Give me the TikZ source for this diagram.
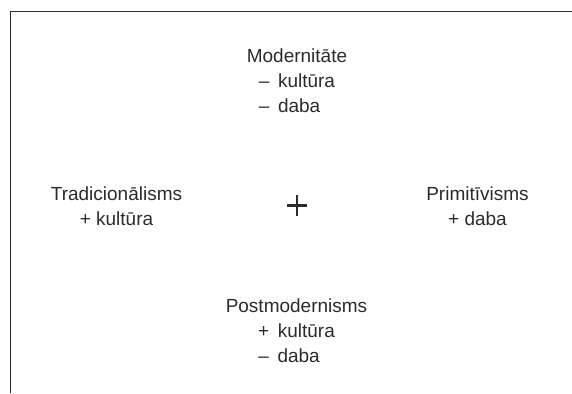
\documentclass[tikz,border=0pt]{standalone}
\usepackage{fontspec}
\setmainfont{Liberation Sans}
\definecolor{ink}{HTML}{2B2B2B}
\def\gap{\hspace{0.45em}}

\tikzset{
  label text/.style={font=\fontsize{19}{25}\selectfont, text=ink, inner sep=0pt, align=center, anchor=base},
  frame line/.style={ink, line width=1.8pt},
  cross line/.style={ink, line width=2.4pt}
}

\begin{document}
\begin{tikzpicture}[x=1pt, y=-1pt]
  \useasboundingbox (0,0) rectangle (572,393);
  \draw[frame line] (572,11.5) -- (10.5,11.5) -- (10.5,393);
  \node[label text] (modern) at (297,113) {Modernitāte\\–\gap kultūra\\\rlap{–\gap daba}\phantom{–\gap kultūra}};
  \node[label text] (trad) at (116.5,225) {Tradicionālisms\\+ kultūra};
  \node[label text] (prim) at (477.5,225) {Primitīvisms\\+ daba};
  \node[label text] (postmod) at (296.5,362.5) {Postmodernisms\\+\gap kultūra\\\rlap{–\gap daba}\phantom{–\gap kultūra}};
  \coordinate (mid) at (297,205.5);
  \draw[cross line] ([xshift=-10pt]mid) -- ([xshift=10pt]mid);
  \draw[cross line] ([yshift=-10.5pt]mid) -- ([yshift=10.5pt]mid);
\end{tikzpicture}
\end{document}
